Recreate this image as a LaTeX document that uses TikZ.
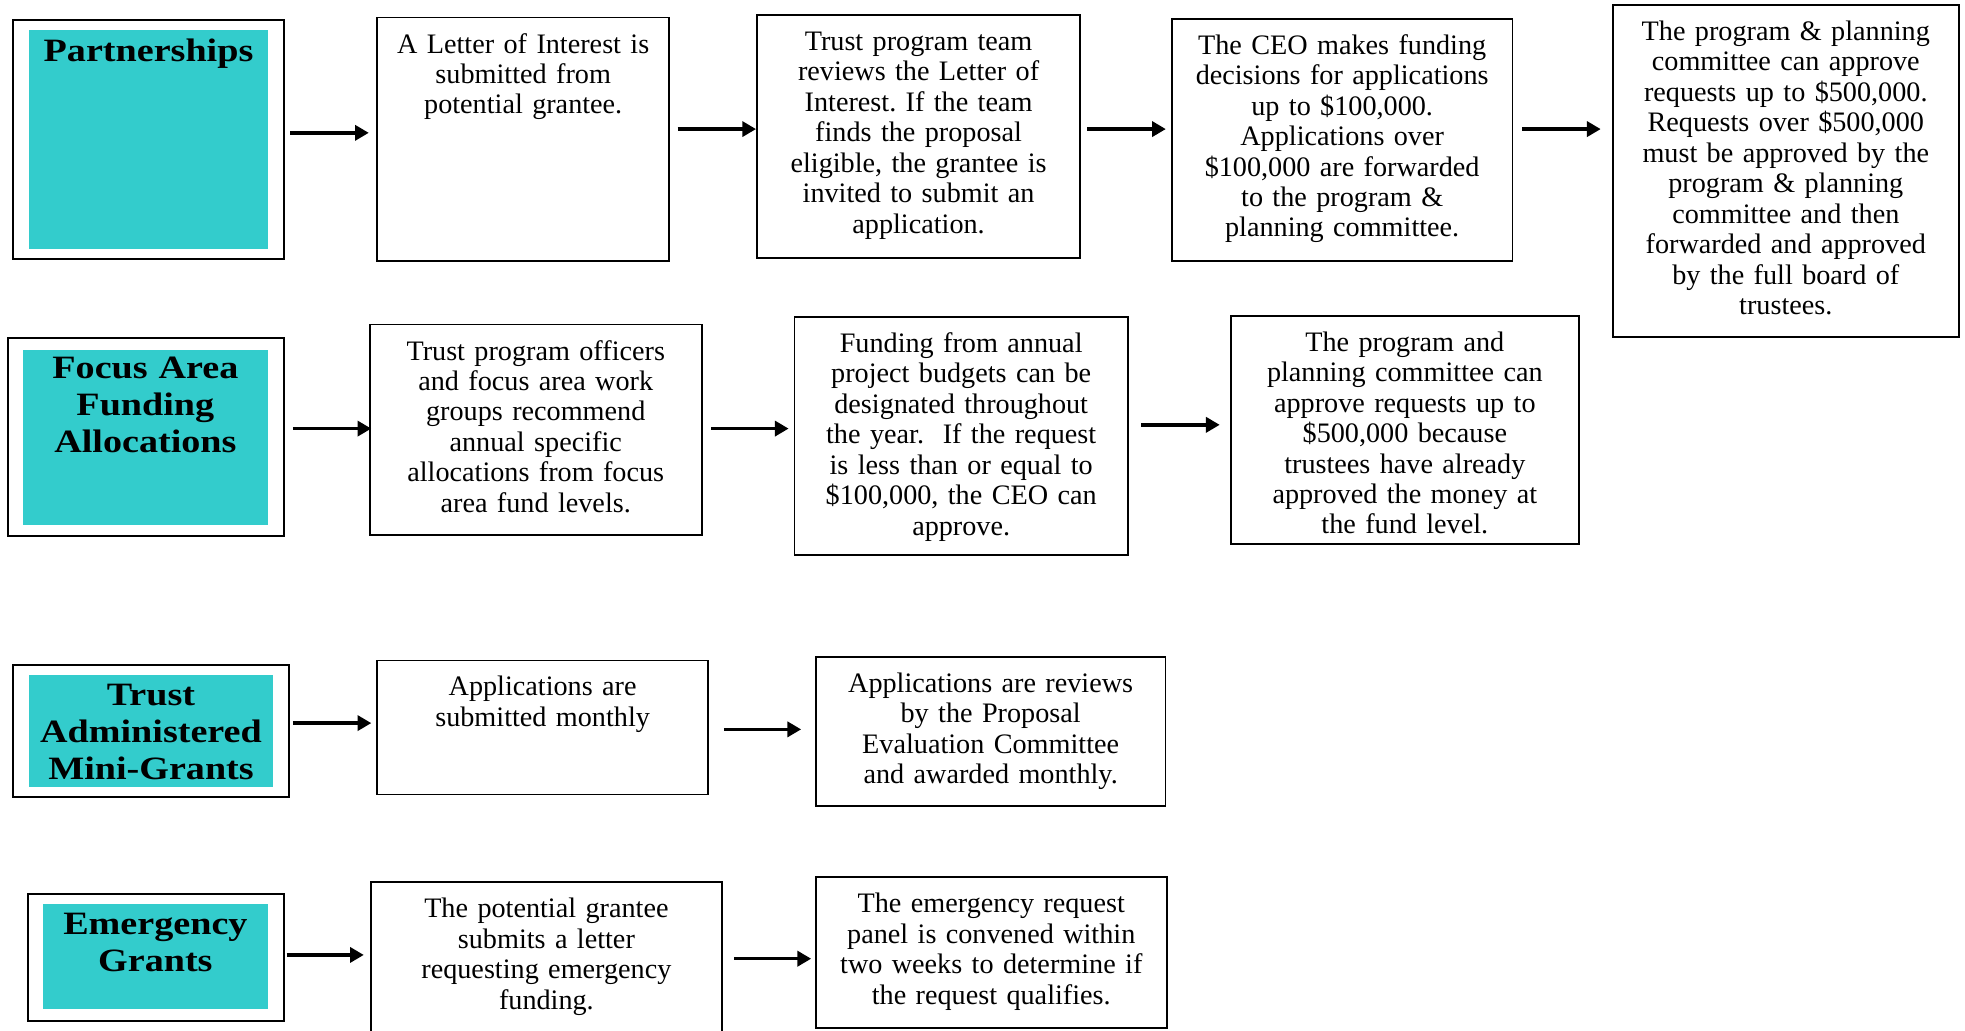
\documentclass[tikz,border=0pt]{standalone}
\usepackage{fontspec}
\setmainfont{Liberation Serif}
\newfontfamily\headfont[FakeStretch=1.17]{Liberation Serif}
\usetikzlibrary{arrows.meta,fit}
\definecolor{tealfill}{HTML}{33CCCC}
\frenchspacing
\tikzset{
  boxst/.style={draw=black, line width=1.4pt, inner sep=0pt, fill=white},
  outerst/.style={draw=black, line width=1.6pt, inner sep=0pt, fill=white},
  innerst/.style={fill=tealfill, draw=none, inner sep=0pt},
  bodytxt/.style={align=center, inner sep=0pt, font=\fontsize{22.5}{24.3}\selectfont\frenchspacing, text width=300pt},
  headtxt/.style={align=center, inner sep=0pt, font=\headfont\bfseries\fontsize{26}{29.5}\selectfont, text width=240pt},
  arr/.style={line width=2.8pt, -{Triangle[length=11pt,width=12pt]}}
}
\newcommand\stepbox[6]{%
  \path (#2,#3) coordinate (#1-nw) (#4,#5) coordinate (#1-se);
  \node[boxst, fit=(#1-nw)(#1-se)] (#1) {};
  \node[bodytxt, anchor=base] (#1-t) at ([yshift=-29pt]#1.north) {#6};
}
% name, outer nw, outer se, inner nw, inner se, first baseline y, text
\newcommand\headbox[7]{%
  \path (#2) coordinate (#1-onw) (#3) coordinate (#1-ose) (#4) coordinate (#1-inw) (#5) coordinate (#1-ise);
  \node[outerst, fit=(#1-onw)(#1-ose)] (#1) {};
  \node[innerst, fit=(#1-inw)(#1-ise)] (#1-in) {};
  \node[headtxt, anchor=base] (#1-t) at (#1-in.north |- 0,#6) {#7};
}
% from, to, y, start gap, end gap
\newcommand\arrow[5]{%
  \draw[arr, shorten <=#4pt, shorten >=#5pt] (#1.east |- 0,#3) -- (#2.west |- 0,#3);
}
\begin{document}
\begin{tikzpicture}[x=1pt,y=-1pt]
\clip (0,0) rectangle (1568,822);
\fill[white] (0,0) rectangle (1568,822);

% Row 1: Partnerships
\headbox{P}{10,16}{227,207}{23,24}{214,199}{49}{Partnerships}
\stepbox{L1}{301}{14}{534}{208}{A Letter of Interest is\\submitted from\\potential grantee.}
\stepbox{T1}{604}{12}{862}{206}{Trust program team\\reviews the Letter of\\Interest. If the team\\finds the proposal\\eligible, the grantee is\\invited to submit an\\application.}
\stepbox{C1}{935}{15}{1207}{208}{The CEO makes funding\\decisions for applications\\up to \$100,000.\\Applications over\\\$100,000 are forwarded\\to the program \&\\planning committee.}
\stepbox{R1}{1287}{4}{1563}{269}{The program \& planning\\committee can approve\\requests up to \$500,000.\\Requests over \$500,000\\must be approved by the\\program \& planning\\committee and then\\forwarded and approved\\by the full board of\\trustees.}
\arrow{P}{L1}{106}{4}{6}
\arrow{L1}{T1}{103}{6}{0}
\arrow{T1}{C1}{103}{5}{4}
\arrow{C1}{R1}{103}{7}{9}

% Row 2: Focus Area Funding Allocations
\headbox{F}{6,270}{227,428}{18,279}{214,419}{302}{Focus Area\\Funding\\Allocations}
\stepbox{T2}{295}{259}{560}{427}{Trust program officers\\and focus area work\\groups recommend\\annual specific\\allocations from focus\\area fund levels.}
\stepbox{F2}{634}{253}{900}{443}{Funding from annual\\project budgets can be\\designated throughout\\the year.\ \ If the request\\is less than or equal to\\\$100,000, the CEO can\\approve.}
\stepbox{P2}{982}{252}{1260}{434}{The program and\\planning committee can\\approve requests up to\\\$500,000 because\\trustees have already\\approved the money at\\the fund level.}
\arrow{F}{T2}{342}{6}{-2}
\arrow{T2}{F2}{342}{7}{4}
\arrow{F2}{P2}{339}{10}{8}

% Row 3: Trust Administered Mini-Grants
\headbox{M}{10,531}{231,636}{23,539}{218,628}{563}{Trust\\Administered\\Mini-Grants}
\stepbox{A3}{301}{527}{565}{634}{Applications are\\submitted monthly}
\stepbox{A4}{651}{524}{930}{643}{Applications are reviews\\by the Proposal\\Evaluation Committee\\and awarded monthly.}
\arrow{M}{A3}{577}{2}{4}
\arrow{A3}{A4}{582}{12}{11}

% Row 4: Emergency Grants
\headbox{E}{22,713}{227,815}{34,721}{214,805}{746}{Emergency\\Grants}
\stepbox{E2}{296}{704}{576}{845}{The potential grantee\\submits a letter\\requesting emergency\\funding.}
\stepbox{E3}{651}{700}{931}{820}{The emergency request\\panel is convened within\\two weeks to determine if\\the request qualifies.}
\arrow{E}{E2}{762}{1}{5}
\arrow{E2}{E3}{765}{9}{3}
\end{tikzpicture}
\end{document}
